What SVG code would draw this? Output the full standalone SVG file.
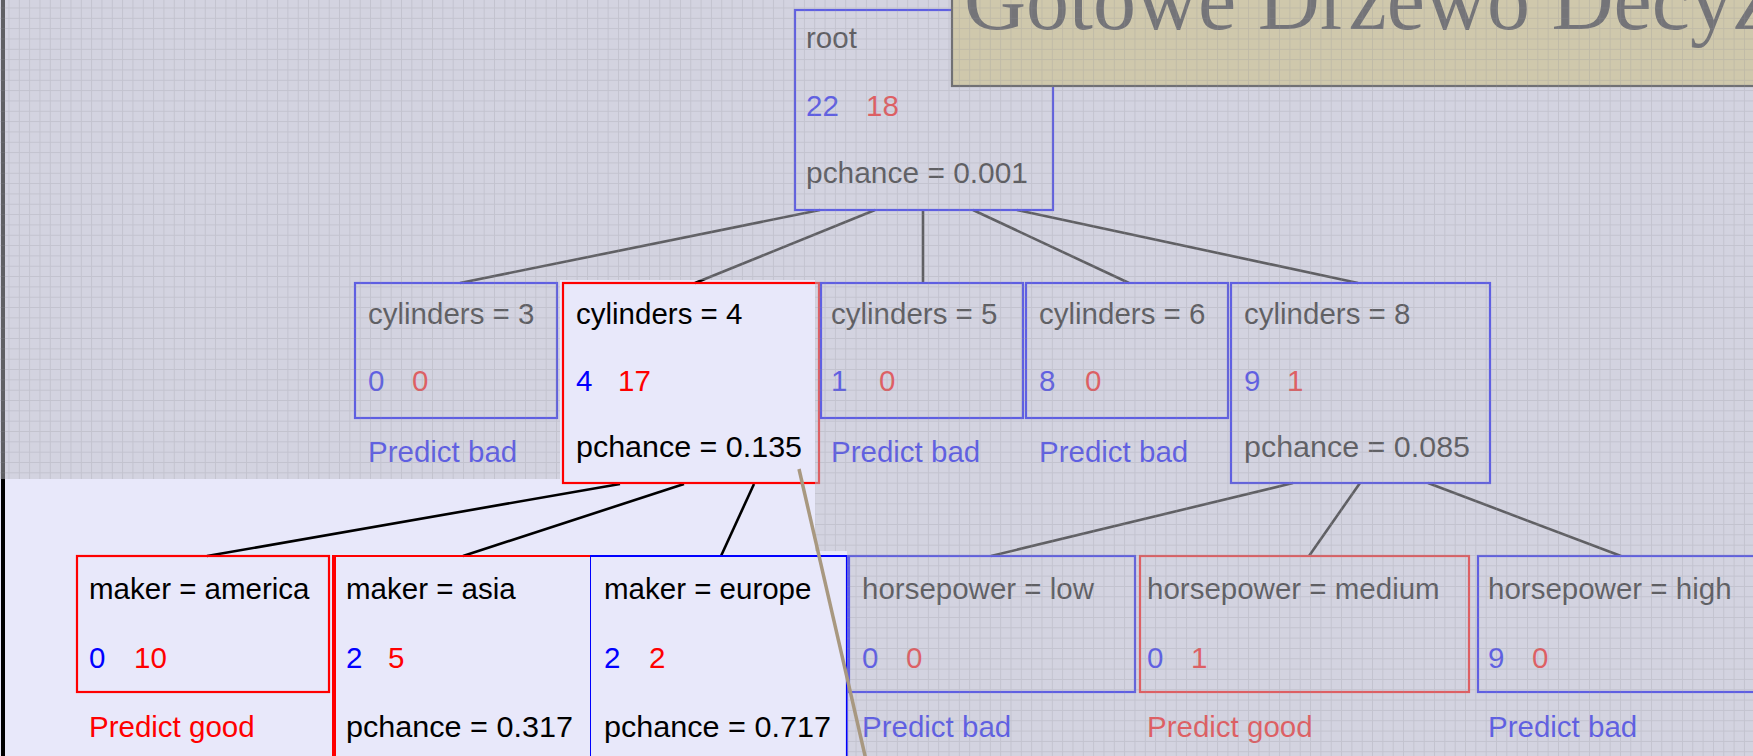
<svg xmlns="http://www.w3.org/2000/svg" width="1753" height="756" viewBox="0 0 1753 756">
<defs>
<style>
.t{font-family:"Liberation Sans",Arial,sans-serif;font-size:29.5px;fill:#000}
.b{fill:#0000FF}
.r{fill:#FF0000}
.nb{fill:none;stroke:#0000FF;stroke-width:2.2}
.nr{fill:none;stroke:#FF0000;stroke-width:2.2}
.c{stroke:#000;stroke-width:2.6;fill:none}
</style>
<pattern id="grid" width="10.33" height="10.33" patternUnits="userSpaceOnUse" x="8.5" y="7.5">
<path d="M0 0.5H10.33M0.5 0V10.33" stroke="#8c8c94" stroke-opacity="0.24" stroke-width="1" fill="none"/>
</pattern>
<clipPath id="dim">
<path clip-rule="evenodd" d="M0 0H1753V756H0Z M0 479H560V280H815V551H847V756H0Z"/>
</clipPath>
</defs>
<rect x="0" y="0" width="1753" height="756" fill="#E8E8FA"/>
<rect x="1" y="0" width="4" height="756" fill="#000"/>

<g id="connectors">
<line class="c" x1="820" y1="210" x2="460" y2="283"/>
<line class="c" x1="875" y1="210" x2="695" y2="283"/>
<line class="c" x1="923" y1="210" x2="923" y2="283"/>
<line class="c" x1="973" y1="210" x2="1129" y2="283"/>
<line class="c" x1="1017" y1="210" x2="1358" y2="283"/>
<line class="c" x1="620" y1="484" x2="207" y2="556"/>
<line class="c" x1="684" y1="484" x2="463" y2="556"/>
<line class="c" x1="754" y1="484" x2="721" y2="556"/>
<line class="c" x1="1293" y1="483" x2="991" y2="556"/>
<line class="c" x1="1360" y1="483" x2="1309" y2="556"/>
<line class="c" x1="1428" y1="483" x2="1621" y2="556"/>
</g>

<g id="root">
<rect class="nb" x="795" y="10" width="258" height="200"/>
<text class="t" x="806" y="48">root</text>
<text class="t b" x="806" y="116">22</text>
<text class="t r" x="866" y="116">18</text>
<text class="t" x="806" y="183" textLength="222" lengthAdjust="spacingAndGlyphs">pchance = 0.001</text>
</g>

<g id="title">
<rect x="952" y="-5" width="820" height="91" fill="#E0D292" stroke="#222" stroke-width="2.2"/>
<text x="964" y="29" style="font-family:'Liberation Serif','Times New Roman',serif;font-size:86px;fill:#2a2a2a">Gotowe Drzewo Decyz</text>
</g>

<g id="cyl3">
<rect class="nb" x="355" y="283" width="202" height="135"/>
<text class="t" x="368" y="324">cylinders = 3</text>
<text class="t b" x="368" y="391">0</text>
<text class="t r" x="412" y="391">0</text>
<text class="t b" x="368" y="462">Predict bad</text>
</g>

<g id="cyl4">
<rect class="nr" x="563" y="283" width="256" height="200"/>
<text class="t" x="576" y="324">cylinders = 4</text>
<text class="t b" x="576" y="391">4</text>
<text class="t r" x="618" y="391">17</text>
<text class="t" x="576" y="457" textLength="226" lengthAdjust="spacingAndGlyphs">pchance = 0.135</text>
</g>

<g id="cyl5">
<rect class="nb" x="821" y="283" width="202" height="135"/>
<text class="t" x="831" y="324">cylinders = 5</text>
<text class="t b" x="831" y="391">1</text>
<text class="t r" x="879" y="391">0</text>
<text class="t b" x="831" y="462">Predict bad</text>
</g>

<g id="cyl6">
<rect class="nb" x="1026" y="283" width="202" height="135"/>
<text class="t" x="1039" y="324">cylinders = 6</text>
<text class="t b" x="1039" y="391">8</text>
<text class="t r" x="1085" y="391">0</text>
<text class="t b" x="1039" y="462">Predict bad</text>
</g>

<g id="cyl8">
<rect class="nb" x="1231" y="283" width="259" height="200"/>
<text class="t" x="1244" y="324">cylinders = 8</text>
<text class="t b" x="1244" y="391">9</text>
<text class="t r" x="1287" y="391">1</text>
<text class="t" x="1244" y="457" textLength="226" lengthAdjust="spacingAndGlyphs">pchance = 0.085</text>
</g>

<g id="america">
<rect class="nr" x="77" y="556" width="252" height="136"/>
<text class="t" x="89" y="599">maker = america</text>
<text class="t b" x="89" y="668">0</text>
<text class="t r" x="134" y="668">10</text>
<text class="t r" x="89" y="737">Predict good</text>
</g>

<g id="asia">
<path class="nr" d="M334 556H590"/>
<line x1="334" y1="555" x2="334" y2="760" stroke="#FF0000" stroke-width="4"/>
<text class="t" x="346" y="599">maker = asia</text>
<text class="t b" x="346" y="668">2</text>
<text class="t r" x="388" y="668">5</text>
<text class="t" x="346" y="737" textLength="227" lengthAdjust="spacingAndGlyphs">pchance = 0.317</text>
</g>

<g id="europe">
<path class="nb" d="M590 556H847V760"/>
<line x1="590.5" y1="556" x2="590.5" y2="760" stroke="#0000FF" stroke-width="1"/>
<text class="t" x="604" y="599">maker = europe</text>
<text class="t b" x="604" y="668">2</text>
<text class="t r" x="649" y="668">2</text>
<text class="t" x="604" y="737" textLength="227" lengthAdjust="spacingAndGlyphs">pchance = 0.717</text>
</g>

<g id="hp-low">
<rect class="nb" x="849" y="556" width="286" height="136"/>
<text class="t" x="862" y="599">horsepower = low</text>
<text class="t b" x="862" y="668">0</text>
<text class="t r" x="906" y="668">0</text>
<text class="t b" x="862" y="737">Predict bad</text>
</g>

<g id="hp-medium">
<rect class="nr" x="1140" y="556" width="329" height="136"/>
<text class="t" x="1147" y="599">horsepower = medium</text>
<text class="t b" x="1147" y="668">0</text>
<text class="t r" x="1191" y="668">1</text>
<text class="t r" x="1147" y="737">Predict good</text>
</g>

<g id="hp-high">
<rect class="nb" x="1478" y="556" width="320" height="136"/>
<text class="t" x="1488" y="599">horsepower = high</text>
<text class="t b" x="1488" y="668">9</text>
<text class="t r" x="1532" y="668">0</text>
<text class="t b" x="1488" y="737">Predict bad</text>
</g>

<g id="dim-overlay" clip-path="url(#dim)">
<rect x="0" y="0" width="1753" height="756" fill="rgb(190,190,198)" fill-opacity="0.5"/>
<rect x="0" y="0" width="1753" height="756" fill="url(#grid)"/>
</g>

<line id="pointer" x1="799" y1="469" x2="866" y2="760" stroke="#A89880" stroke-width="3.5"/>
</svg>
